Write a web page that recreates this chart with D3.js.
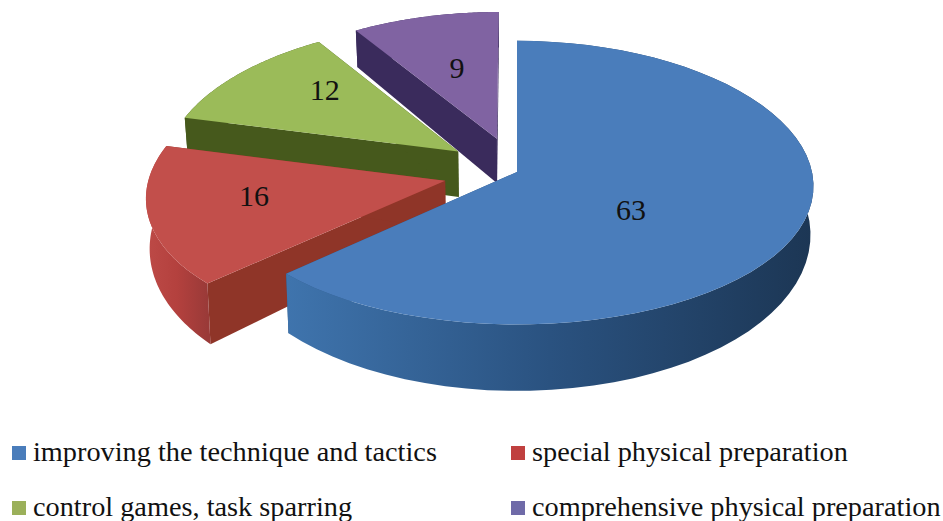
<!DOCTYPE html>
<html>
<head>
<meta charset="utf-8">
<script src="https://cdn.jsdelivr.net/npm/d3@7"></script>
<style>
  html, body { margin: 0; padding: 0; background: #fff; }
  svg { display: block; }
  text { font-family: "Liberation Serif", serif; fill: #111; }
</style>
</head>
<body>
<script>
// data
const categories = [
  'improving the technique and tactics',
  'special physical preparation',
  'control games, task sparring',
  'comprehensive physical preparation'
];
const values = [63, 16, 12, 9];

// styles, one per slice
const topColors = ['#4a7dbb', '#c24f4b', '#9bbb59', '#8063a2'];
const faceColors = ['#2b5480', '#8f3528', '#46591c', '#3a2b5c'];
const wallColors = [['#3f74ad', '#2a5280', '#1c3654'], ['#bd4a47', '#b4413e', '#9a3a38'], ['#46591c', '#46591c', '#46591c'], ['#3a2b5c', '#3a2b5c', '#3a2b5c']];
const legendColors = ['#4a7dbb', '#c0403f', '#9bb05a', '#6f6aa8'];
const explode = [0, 0.25, 0.25, 0.25];
const labelRadius = [0.45, 0.66, 0.6, 0.52];
const labelShift = [[-10, 12], [3, -9], [1, -15], [-1, -6]];

const width = 943, height = 521;
const cx = 517, cy = 172, R = 295, Rk = 141, perspX = 0.1, perspY = 0.075, depth = 47;

const svg = d3.select('body').append('svg')
  .attr('width', width).attr('height', height);
const defs = svg.append('defs');

// ground plane -> screen, a little perspective so the front comes out bigger
function project(u, v) {
  return [cx + R * u / (1 + perspX * v), cy - Rk * v / (1 + perspY * v)];
}
function projectBottom(u, v) {
  const s = 1 / (1 + 0.067 * v);
  const p = project(u, v);
  return [cx + (p[0] - cx) * 0.99, p[1] + depth * Math.pow(s, v > 0 ? 3.5 : 5)];
}

const pie = d3.pie().sort(null).startAngle(0).endAngle(2 * Math.PI);
const arcs = pie(values);
const line = d3.line();

const slices = arcs.map((d, i) => {
  const mid = (d.startAngle + d.endAngle) / 2;
  const ou = explode[i] * Math.sin(mid), ov = explode[i] * Math.cos(mid);
  const steps = d3.range(0, 61).map(k => d.startAngle + (d.endAngle - d.startAngle) * k / 60);
  const rim = steps.map(a => [ou + Math.sin(a), ov + Math.cos(a)]);
  return { i, mid, ou, ov, rim, value: d.value };
});

// back to front: the big blue piece goes last
slices.slice().reverse().forEach(s => {
  const g = svg.append('g');
  const topRim = s.rim.map(p => project(p[0], p[1]));
  const botRim = s.rim.map(p => projectBottom(p[0], p[1]));
  const apex = project(s.ou, s.ov), apexB = projectBottom(s.ou, s.ov);

  const grad = defs.append('linearGradient').attr('id', 'wall' + s.i)
    .attr('gradientUnits', 'userSpaceOnUse')
    .attr('x1', d3.min(topRim, p => p[0])).attr('x2', d3.max(topRim, p => p[0]))
    .attr('y1', 0).attr('y2', 0);
  wallColors[s.i].forEach((c, k) => {
    grad.append('stop').attr('offset', k / 2).attr('stop-color', c);
  });

  // cut faces first, the rim wall goes over them
  [0, topRim.length - 1].forEach(e => {
    g.append('path').attr('d', line([apex, topRim[e], botRim[e], apexB]) + 'Z')
      .attr('fill', faceColors[s.i]);
  });
  g.append('path').attr('d', line(topRim.concat(botRim.slice().reverse())) + 'Z')
    .attr('fill', 'url(#wall' + s.i + ')');
  g.append('path').attr('d', line([apex].concat(topRim)) + 'Z')
    .attr('fill', topColors[s.i]);
});

// value labels
slices.forEach(s => {
  const r = labelRadius[s.i];
  const p = project(s.ou + r * Math.sin(s.mid), s.ov + r * Math.cos(s.mid));
  svg.append('text')
    .attr('x', p[0] + labelShift[s.i][0]).attr('y', p[1] + labelShift[s.i][1])
    .attr('text-anchor', 'middle').attr('dominant-baseline', 'central')
    .style('font-size', '30px')
    .text(s.value);
});

// legend, two by two
const legendX = d3.scaleOrdinal().domain([0, 1]).range([12, 511]);
const legendY = d3.scaleOrdinal().domain([0, 1]).range([461, 516]);
categories.forEach((c, i) => {
  const x = legendX(i % 2), y = legendY(Math.floor(i / 2));
  svg.append('rect').attr('x', x).attr('y', y - 15).attr('width', 14).attr('height', 14)
    .attr('fill', legendColors[i]);
  svg.append('text').attr('x', x + 21).attr('y', y)
    .style('font-size', '28.3px')
    .text(c);
});
</script>
</body>
</html>
